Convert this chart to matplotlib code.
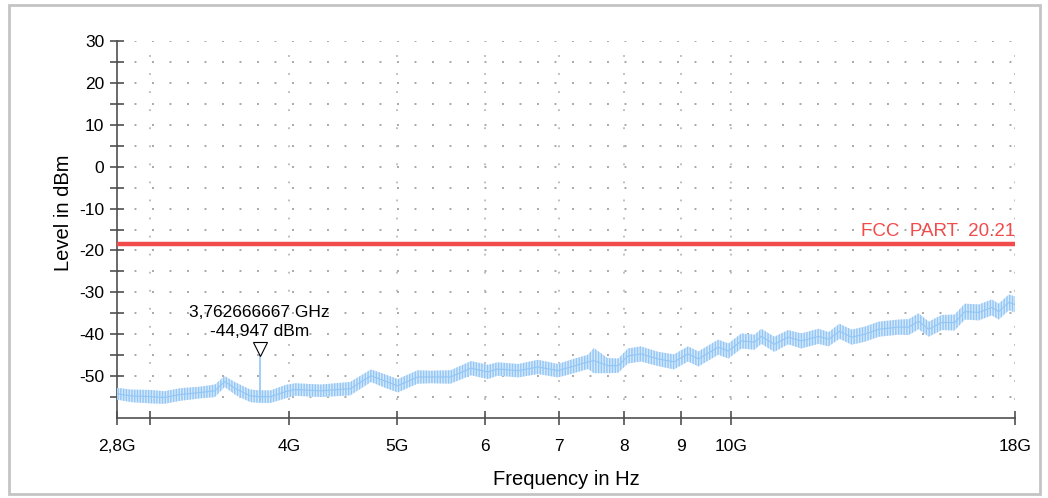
import numpy as np
import matplotlib
matplotlib.use("Agg")
import matplotlib.pyplot as plt
from matplotlib.patches import Rectangle

plt.rcParams["font.family"] = ["Liberation Sans", "DejaVu Sans"]
plt.rcParams["hatch.linewidth"] = 1.0
plt.rcParams["axes.unicode_minus"] = False

# ─────────────────────────────────────────────
#  DATA
# ─────────────────────────────────────────────
freq_ghz = [2.80, 2.88, 3.00, 3.09, 3.19, 3.33, 3.43, 3.50, 3.58, 3.69,
            3.76, 3.85, 3.97, 4.05, 4.27, 4.54, 4.74, 4.87, 5.01, 5.22,
            5.36, 5.59, 5.83, 6.04, 6.16, 6.43, 6.70, 6.98, 7.17, 7.43,
            7.52, 7.74, 7.91, 8.07, 8.29, 8.59, 8.88, 9.14, 9.34, 9.73,
            9.94, 10.21, 10.49, 10.64, 10.93, 11.25, 11.56, 11.98, 12.23, 12.51,
            12.83, 13.18, 13.57, 14.14, 14.44, 14.74, 15.05, 15.46, 15.88, 16.22,
            16.70, 17.15, 17.40, 17.77, 18.00]
level_dbm = [-54.2, -54.7, -54.9, -55.1, -54.4, -53.9, -53.5, -51.3, -53.0, -54.7,
             -54.9, -54.9, -53.7, -53.2, -53.5, -53.0, -49.9, -51.1, -52.3, -50.2,
             -50.2, -50.2, -48.1, -49.0, -48.3, -48.7, -47.8, -48.7, -47.8, -46.6,
             -46.3, -47.5, -47.5, -45.2, -44.7, -45.9, -46.6, -44.7, -45.9, -43.1,
             -44.0, -41.6, -41.9, -40.5, -42.4, -40.7, -41.6, -40.5, -41.2, -39.3,
             -40.7, -40.0, -38.8, -38.3, -38.3, -36.9, -38.8, -37.2, -37.2, -34.6,
             -34.8, -33.6, -34.6, -32.4, -32.9]
spread_db = [1.4, 1.5, 1.6, 1.5, 1.5, 1.4, 1.5, 1.3, 1.5, 1.5,
             1.5, 1.5, 1.6, 1.5, 1.5, 1.6, 1.5, 1.6, 1.6, 1.6,
             1.5, 1.6, 1.7, 1.7, 1.6, 1.6, 1.7, 1.6, 1.7, 1.7,
             3.0, 1.8, 1.7, 1.8, 1.8, 1.7, 1.8, 1.8, 1.8, 1.8,
             1.8, 1.8, 1.8, 1.8, 1.8, 1.7, 1.8, 1.8, 1.7, 1.8,
             1.8, 1.8, 1.8, 1.8, 1.9, 1.9, 1.8, 1.8, 1.9, 1.9,
             1.9, 1.9, 1.9, 1.9, 1.9]

limit_dbm = -18.5
limit_label = "FCC  PART  20.21"

marker_ghz = 3.762666667
marker_dbm = -44.947
marker_text = "3,762666667 GHz\n-44,947 dBm"

xticks = [2.8, 3.0, 4.0, 5.0, 6.0, 7.0, 8.0, 9.0, 10.0, 18.0]
xticklabels = ["2,8G", "", "4G", "5G", "6", "7", "8", "9", "10G", "18G"]
yticks = [-50, -40, -30, -20, -10, 0, 10, 20, 30]
yminor = [-55, -45, -35, -25, -15, -5, 5, 15, 25]

TRACE = "#92c6f5"
TRACE_FILL = "#d6e9fc"
LIMIT = "#f24b4b"
GRID = "#a8a8a8"
AXIS = "#505050"

# ─────────────────────────────────────────────
#  FIGURE
# ─────────────────────────────────────────────
fig = plt.figure(figsize=(10.48, 4.98), dpi=100, facecolor="white")
ax = fig.add_axes([0.1116, 0.1606, 0.8570, 0.7571])

f = np.array(freq_ghz)
lvl = np.array(level_dbm)
sp = np.array(spread_db)

# trace: light band with dense vertical hatching
ax.fill_between(f, lvl - sp, lvl + sp, facecolor=TRACE_FILL,
                edgecolor=TRACE, hatch="||||||", linewidth=0, zorder=3)
ax.plot(f, lvl, color=TRACE, lw=0.8, zorder=4)

# limit line
ax.axhline(limit_dbm, color=LIMIT, lw=3.2, zorder=5)
ax.text(18.0, limit_dbm + 0.9, limit_label, color=LIMIT, fontsize=13.5,
        ha="right", va="bottom", zorder=6)

# marker
ax.vlines(marker_ghz, level_dbm[10] - 1.0, marker_dbm, color=TRACE, lw=1.2,
          zorder=5)
ax.plot(marker_ghz, marker_dbm + 1.35, marker="v", ms=10, mfc="white",
        mec="black", mew=0.8, zorder=6)
ax.text(marker_ghz, marker_dbm + 3.8, marker_text, fontsize=12.5,
        ha="center", va="bottom", linespacing=1.3, zorder=6)

# axes, scales
ax.set_xscale("log")
ax.set_xlim(2.8, 18.0)
ax.set_ylim(-60, 30)
ax.set_xticks(xticks)
ax.set_xticklabels(xticklabels)
ax.xaxis.set_minor_locator(matplotlib.ticker.NullLocator())
ax.set_yticks(yticks)
ax.set_yticks(yminor, minor=True)

for side in ("top", "right"):
    ax.spines[side].set_visible(False)
for side in ("left", "bottom"):
    ax.spines[side].set_color(AXIS)
    ax.spines[side].set_linewidth(1.2)

ax.tick_params(axis="both", which="both", direction="inout", color=AXIS,
               width=1.2, labelsize=12.5)
ax.tick_params(axis="y", which="major", length=10, pad=4)
ax.tick_params(axis="y", which="minor", length=10)
ax.tick_params(axis="x", which="major", length=10, pad=10)

# dotted grid
for y in yticks + yminor:
    ax.axhline(y, color=GRID, lw=1.4, ls=(0, (1, 8)), zorder=1)
for x in xticks[1:]:
    ax.axvline(x, color="#b8b8b8", lw=1.3, ls=(0, (1, 9)), zorder=1)

ax.set_xlabel("Frequency in Hz", fontsize=14.5)
ax.set_ylabel("Level in dBm", fontsize=14.5)
ax.xaxis.set_label_coords(0.5, -0.138)
ax.yaxis.set_label_coords(-0.049, 0.545)

# outer frame
fig.add_artist(Rectangle((0.009, 0.008), 0.983, 0.982,
                         transform=fig.transFigure, fill=False,
                         edgecolor="#c4c4c4", lw=2.0))

fig.savefig("out.png", dpi=100, facecolor=fig.get_facecolor())
